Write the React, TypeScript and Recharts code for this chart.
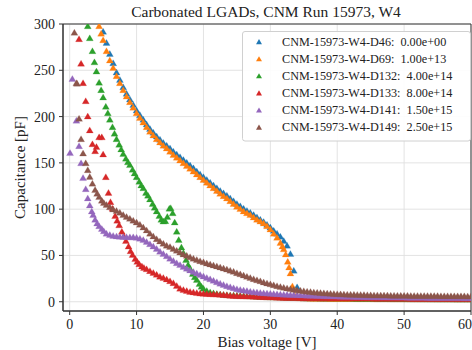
import { ScatterChart, Scatter, XAxis, YAxis, CartesianGrid, ReferenceArea } from 'recharts'

type Pt = [number, number]

// irregular start of each sweep: [bias V, capacitance pF]
const d46Head: Pt[] = [
  [5.0, 292], [5.5, 280], [6.0, 268], [6.5, 258], [7.0, 248], [7.5, 240], [8.0, 232], [8.5, 225], [9.0, 219], [9.5, 213],
  [10.0, 207], [10.5, 202], [11.0, 197], [11.5, 192], [12.0, 187], [12.5, 183], [13.0, 179], [13.5, 175.5], [14.0, 172], [14.5, 169],
  [15.0, 166], [15.5, 162.5], [16.0, 159.5], [16.5, 156.5], [17.0, 153.5], [17.5, 150.5], [18.0, 147.5], [18.5, 144.5], [19.0, 141], [19.5, 138],
  [20.0, 135], [20.5, 132], [21.0, 129], [21.5, 126], [22.0, 123], [22.5, 120], [23.0, 117.5], [23.5, 115], [24.0, 112], [24.5, 109],
  [25.0, 106], [25.5, 103.5], [26.0, 101], [26.5, 98.5], [27.0, 96.5], [27.5, 94], [28.0, 91.5], [28.5, 89], [29.0, 86.5], [29.5, 83.5],
  [30.0, 80.5], [30.5, 77], [31.0, 74], [31.5, 70.5], [32.0, 66], [32.5, 61], [33.0, 52], [33.5, 34], [34.0, 16], [34.5, 5.5],
]
const d69Head: Pt[] = [
  [4.4, 298], [4.7, 290], [5.0, 283], [5.5, 271], [6.0, 261], [6.5, 253], [7.0, 244], [7.5, 236.5], [8.0, 229], [8.5, 222],
  [9.0, 216], [9.5, 210], [10.0, 204], [10.5, 199], [11.0, 194], [11.5, 189], [12.0, 184], [12.5, 180], [13.0, 176], [13.5, 172.5],
  [14.0, 169], [14.5, 166], [15.0, 162.5], [15.5, 159], [16.0, 156], [16.5, 153], [17.0, 150], [17.5, 147], [18.0, 144], [18.5, 141],
  [19.0, 138], [19.5, 135], [20.0, 132], [20.5, 129], [21.0, 126], [21.5, 123], [22.0, 120], [22.5, 117], [23.0, 114.5], [23.5, 112],
  [24.0, 109], [24.5, 106], [25.0, 103], [25.5, 100.5], [26.0, 98], [26.5, 96], [27.0, 94], [27.5, 91.5], [28.0, 89], [28.5, 87],
  [29.0, 85], [29.5, 82], [30.0, 78.5], [30.5, 74], [31.0, 69.5], [31.5, 64], [31.8, 60], [32.0, 57], [32.3, 51.5], [32.6, 43.5],
  [32.8, 37.5], [33.0, 31], [33.3, 17], [33.8, 6], [34.3, 4.2],
]
const d132Head: Pt[] = [
  [2.7, 298], [3.0, 285], [3.4, 271], [3.7, 259], [4.0, 249], [4.4, 237], [4.7, 229], [5.0, 221], [5.4, 211], [5.7, 204],
  [6.0, 197], [6.4, 189], [6.7, 182], [7.0, 176], [7.4, 170], [7.7, 165], [8.0, 160], [8.4, 155], [8.7, 151], [9.0, 148],
  [9.4, 143], [9.7, 139], [10.0, 135], [10.4, 130], [10.7, 126], [11.0, 123], [11.4, 118], [11.7, 115], [12.0, 111], [12.4, 106],
  [12.7, 102], [13.0, 98], [13.4, 93], [13.7, 89], [14.0, 87], [14.3, 87.5], [14.6, 92], [14.9, 101], [15.1, 101.5], [15.4, 96],
  [15.7, 86], [16.0, 76], [16.3, 67], [16.7, 59], [17.0, 53], [17.4, 45.5], [17.7, 40], [18.0, 36], [18.4, 30.5], [18.7, 27],
  [19.0, 24], [19.4, 19.5], [19.7, 16.5], [20.0, 14.5], [20.5, 12], [21.0, 10.5], [21.5, 9.5], [22.0, 8.8], [22.5, 8.3], [23.0, 7.8],
  [23.5, 7.5], [24.0, 7.3], [24.5, 7.1], [25.0, 7], [25.5, 6.8], [26.0, 6.6], [26.5, 6.4], [27.0, 6.2], [27.5, 6], [28.0, 5.8],
  [28.5, 5.6], [29.0, 5.5], [29.5, 5.3], [30.0, 5.2], [30.5, 5.1], [31.0, 5], [31.5, 4.9], [32.0, 4.8], [32.5, 4.7], [33.0, 4.6],
  [33.5, 4.5], [34.0, 4.5], [34.5, 4.4],
]
const d133Head: Pt[] = [
  [1.4, 284], [1.7, 257.5], [2.0, 236.5], [2.4, 217], [2.7, 200.5], [3.0, 185.5], [3.4, 170.5], [3.8, 163], [4.0, 167.5], [4.4, 178],
  [4.8, 178], [5.0, 159.5], [5.4, 135], [5.8, 118], [6.1, 108], [6.4, 101], [6.8, 93], [7.1, 88], [7.4, 83], [7.8, 76],
  [8.1, 71], [8.4, 66], [8.8, 60], [9.1, 55], [9.4, 51], [9.8, 46.5], [10.1, 43.5], [10.4, 41], [10.8, 38.5], [11.1, 37],
  [11.5, 35.5], [12.0, 33.5], [12.5, 31.5], [13.0, 29.5], [13.5, 27.5], [14.0, 26], [14.5, 24.5], [15.0, 22.5], [15.5, 20.5], [16.0, 17.5],
  [16.5, 14.5], [17.0, 13], [17.5, 12], [18.0, 11], [18.5, 10.5], [19.0, 9.8], [19.5, 9.3], [20.0, 9], [20.5, 8.8], [21.0, 8.6],
  [21.5, 8.4], [22.0, 8.2], [22.5, 8], [23.0, 7.8], [23.5, 7.4], [24.0, 7], [24.5, 6.7], [25.0, 6.5], [25.5, 6.4], [26.0, 6.2],
  [26.5, 6.1], [27.0, 6], [27.5, 5.8], [28.0, 5.7], [28.5, 5.5], [29.0, 5.4], [29.5, 5.2], [30.0, 5.1], [30.5, 5], [31.0, 4.8],
  [31.5, 4.7], [32.0, 4.6], [32.5, 4.5], [33.0, 4.5], [33.5, 4.4], [34.0, 4.4], [34.5, 4.3],
]
const d141Head: Pt[] = [
  [0.05, 161], [0.4, 241], [1.0, 196], [1.4, 168.5], [1.7, 150], [2.0, 134], [2.4, 122], [2.7, 112], [3.0, 104.5], [3.3, 98],
  [3.5, 94], [3.8, 89], [4.1, 85], [4.4, 82], [4.8, 79], [5.1, 76.5], [5.5, 74], [6.0, 72.5], [6.5, 71.5], [7.0, 71],
  [7.5, 70.5], [8.0, 70.3], [8.5, 70.2], [9.0, 70], [9.5, 70], [10.0, 69.5], [10.5, 68.5], [11.0, 67], [11.5, 65], [12.0, 62.5],
  [12.5, 60], [13.0, 57.5], [13.5, 54.5], [14.0, 52], [14.5, 49.5], [15.0, 47], [15.5, 44.5], [16.0, 42], [16.5, 40], [17.0, 38],
  [17.5, 36], [18.0, 34.3], [18.5, 32.5], [19.0, 31], [19.5, 29.3], [20.0, 27.8], [20.5, 26.2], [21.0, 24.6], [21.5, 23], [22.0, 21.5],
  [22.5, 20], [23.0, 18.6], [23.5, 17.3], [24.0, 16.1], [24.5, 15], [25.0, 14], [25.5, 13.2], [26.0, 12.5], [26.5, 11.9], [27.0, 11.3],
  [27.5, 10.8], [28.0, 10.3], [28.5, 9.9], [29.0, 9.6], [29.5, 9.3], [30.0, 9], [30.5, 8.7], [31.0, 8.5], [31.5, 8.3], [32.0, 8.1],
  [32.5, 7.9], [33.0, 7.8], [33.5, 7.6], [34.0, 7.5], [34.5, 7.3],
]
const d149Head: Pt[] = [
  [0.7, 291], [1.0, 236.5], [1.1, 236], [1.4, 198], [1.7, 176], [2.0, 160.5], [2.4, 150], [2.7, 142.5], [3.0, 135.3], [3.4, 128],
  [3.8, 121], [4.1, 117], [4.4, 113.5], [4.8, 109.5], [5.1, 107], [5.5, 105], [6.0, 102.5], [6.5, 100], [7.0, 98.5], [7.5, 96.5],
  [8.0, 94], [8.5, 92], [9.0, 90], [9.5, 88], [10.0, 86], [10.5, 83.5], [11.0, 80.5], [11.5, 77.5], [12.0, 74], [12.5, 71],
  [13.0, 68], [13.5, 65.5], [14.0, 63], [14.5, 61], [15.0, 59.5], [15.5, 57.5], [16.0, 55.5], [16.5, 53.5], [17.0, 51.5], [17.5, 50],
  [18.0, 48.5], [18.5, 47], [19.0, 45.5], [19.5, 44.2], [20.0, 43], [20.5, 41.8], [21.0, 40.7], [21.5, 39.6], [22.0, 38.6], [22.5, 37.5],
  [23.0, 36.3], [23.5, 35.2], [24.0, 34], [24.5, 32.7], [25.0, 31.3], [25.5, 30], [26.0, 28.7], [26.5, 27.3], [27.0, 26], [27.5, 24.8],
  [28.0, 23.6], [28.5, 22.5], [29.0, 21.3], [29.5, 20.2], [30.0, 19.2], [30.5, 18.2], [31.0, 17.2], [31.5, 16.3], [32.0, 15.5], [32.5, 14.8],
  [33.0, 14.1], [33.5, 13.5], [34.0, 12.8], [34.5, 12.3],
]

// flat part of the sweeps, 35 V .. 60 V in 0.5 V steps
const tailVolts = [
  35, 35.5, 36, 36.5, 37, 37.5, 38, 38.5, 39, 39.5,
  40, 40.5, 41, 41.5, 42, 42.5, 43, 43.5, 44, 44.5,
  45, 45.5, 46, 46.5, 47, 47.5, 48, 48.5, 49, 49.5,
  50, 50.5, 51, 51.5, 52, 52.5, 53, 53.5, 54, 54.5,
  55, 55.5, 56, 56.5, 57, 57.5, 58, 58.5, 59, 59.5, 60,
]
const d46Tail = [
  3.9, 3.9, 3.8, 3.8, 3.8, 3.7, 3.7, 3.7, 3.6, 3.6,
  3.6, 3.6, 3.5, 3.5, 3.5, 3.5, 3.4, 3.4, 3.4, 3.4,
  3.4, 3.3, 3.3, 3.3, 3.3, 3.3, 3.2, 3.2, 3.2, 3.2,
  3.2, 3.2, 3.1, 3.1, 3.1, 3.1, 3.1, 3.1, 3.0, 3.0,
  3.0, 3.0, 3.0, 3.0, 3.0, 2.9, 2.9, 2.9, 2.9, 2.9, 2.9,
]
const d69Tail = [
  3.8, 3.8, 3.7, 3.7, 3.7, 3.6, 3.6, 3.6, 3.5, 3.5,
  3.5, 3.5, 3.4, 3.4, 3.4, 3.4, 3.3, 3.3, 3.3, 3.3,
  3.3, 3.2, 3.2, 3.2, 3.2, 3.2, 3.1, 3.1, 3.1, 3.1,
  3.1, 3.1, 3.0, 3.0, 3.0, 3.0, 3.0, 3.0, 2.9, 2.9,
  2.9, 2.9, 2.9, 2.9, 2.9, 2.8, 2.8, 2.8, 2.8, 2.8, 2.8,
]
const d132Tail = [
  4.3, 4.3, 4.2, 4.2, 4.1, 4.1, 4.0, 4.0, 4.0, 3.9,
  3.9, 3.9, 3.8, 3.8, 3.8, 3.7, 3.7, 3.7, 3.6, 3.6,
  3.6, 3.6, 3.5, 3.5, 3.5, 3.5, 3.4, 3.4, 3.4, 3.4,
  3.3, 3.3, 3.3, 3.3, 3.3, 3.2, 3.2, 3.2, 3.2, 3.2,
  3.1, 3.1, 3.1, 3.1, 3.1, 3.1, 3.0, 3.0, 3.0, 3.0, 3.0,
]
const d133Tail = [
  4.3, 4.3, 4.2, 4.2, 4.2, 4.1, 4.1, 4.1, 4.0, 4.0,
  4.0, 4.0, 3.9, 3.9, 3.9, 3.9, 3.8, 3.8, 3.8, 3.8,
  3.8, 3.7, 3.7, 3.7, 3.7, 3.7, 3.6, 3.6, 3.6, 3.6,
  3.6, 3.6, 3.5, 3.5, 3.5, 3.5, 3.5, 3.5, 3.4, 3.4,
  3.4, 3.4, 3.4, 3.4, 3.4, 3.3, 3.3, 3.3, 3.3, 3.3, 3.3,
]
const d141Tail = [
  7.2, 7.0, 6.9, 6.8, 6.6, 6.5, 6.4, 6.3, 6.2, 6.1,
  6.0, 5.9, 5.8, 5.8, 5.7, 5.6, 5.5, 5.5, 5.4, 5.4,
  5.3, 5.3, 5.2, 5.2, 5.1, 5.1, 5.0, 5.0, 4.9, 4.9,
  4.9, 4.8, 4.8, 4.8, 4.7, 4.7, 4.7, 4.6, 4.6, 4.6,
  4.5, 4.5, 4.5, 4.5, 4.4, 4.4, 4.4, 4.4, 4.3, 4.3, 4.3,
]
const d149Tail = [
  11.8, 11.3, 10.9, 10.5, 10.1, 9.8, 9.5, 9.2, 9.0, 8.8,
  8.6, 8.4, 8.3, 8.1, 8.0, 7.9, 7.8, 7.7, 7.6, 7.5,
  7.4, 7.3, 7.3, 7.2, 7.1, 7.1, 7.0, 7.0, 6.9, 6.9,
  6.8, 6.8, 6.7, 6.7, 6.7, 6.6, 6.6, 6.6, 6.5, 6.5,
  6.5, 6.4, 6.4, 6.4, 6.4, 6.3, 6.3, 6.3, 6.3, 6.2, 6.2,
]

const xTicks = [0, 10, 20, 30, 40, 50, 60]
const yTicks = [0, 50, 100, 150, 200, 250, 300]

const series = [
  { name: 'CNM-15973-W4-D46', fluence: '0.00e+00', color: '#1f77b4', head: d46Head, tail: d46Tail },
  { name: 'CNM-15973-W4-D69', fluence: '1.00e+13', color: '#ff7f0e', head: d69Head, tail: d69Tail },
  { name: 'CNM-15973-W4-D132', fluence: '4.00e+14', color: '#2ca02c', head: d132Head, tail: d132Tail },
  { name: 'CNM-15973-W4-D133', fluence: '8.00e+14', color: '#d62728', head: d133Head, tail: d133Tail },
  { name: 'CNM-15973-W4-D141', fluence: '1.50e+15', color: '#9467bd', head: d141Head, tail: d141Tail },
  { name: 'CNM-15973-W4-D149', fluence: '2.50e+15', color: '#8c564b', head: d149Head, tail: d149Tail },
]

const FONT = '"Liberation Serif", "DejaVu Serif", serif'

function rows(head: Pt[], tail: number[]) {
  return [
    ...head.map(([v, c]) => ({ v, c })),
    ...tail.map((c, i) => ({ v: tailVolts[i], c })),
  ]
}

const triPath = (x: number, y: number, r = 1) =>
  `M${x},${y - 3.1 * r}L${x + 3.5 * r},${y + 2.9 * r}L${x - 3.5 * r},${y + 2.9 * r}Z`

function triangle(color: string) {
  return (props: any) => {
    const { cx, cy } = props
    if (cx == null || cy == null) return <g />
    return <path d={triPath(cx, cy)} fill={color} stroke={color} strokeOpacity={0.35} strokeWidth={0.6} />
  }
}

export default function App() {
  return (
    <div style={{ position: 'absolute', left: 0, top: 0, width: 472, height: 350, background: '#fff', fontFamily: FONT }}>
      <ScatterChart width={472} height={350} margin={{ top: 24, right: 1, bottom: 0, left: 0 }}>
        <CartesianGrid stroke="#e0e0e0" strokeWidth={0.9} />
        <XAxis
          type="number"
          dataKey="v"
          domain={[-1, 60]}
          ticks={xTicks}
          allowDataOverflow
          height={39}
          tickSize={4}
          tickMargin={4}
          stroke="#333"
          tick={{ fontSize: 14, fontFamily: FONT, fill: '#222' }}
          label={{ value: 'Bias voltage [V]', position: 'insideBottom', offset: 3, fontSize: 15, fontFamily: FONT, fill: '#222' }}
        />
        <YAxis
          type="number"
          dataKey="c"
          domain={[-10, 300]}
          ticks={yTicks}
          allowDataOverflow
          width={63}
          tickSize={4}
          tickMargin={4}
          stroke="#333"
          tick={{ fontSize: 14, fontFamily: FONT, fill: '#222' }}
          label={{ value: 'Capacitance [pF]', angle: -90, position: 'insideLeft', offset: 20, style: { textAnchor: 'middle' }, fontSize: 15, fontFamily: FONT, fill: '#222' }}
        />
        {series.map(s => (
          <Scatter
            key={s.name}
            name={s.name}
            data={rows(s.head, s.tail)}
            fill={s.color}
            shape={triangle(s.color)}
            isAnimationActive={false}
          />
        ))}
        <ReferenceArea x1={-1} x2={60} y1={-10} y2={300} fill="none" stroke="#333" strokeWidth={1} ifOverflow="visible" />
      </ScatterChart>

      <div style={{ position: 'absolute', left: 66, top: 3, width: 400, textAlign: 'center', fontSize: 15.5, lineHeight: '18px', color: '#222' }}>
        Carbonated LGADs, CNM Run 15973, W4
      </div>

      <svg width={472} height={350} style={{ position: 'absolute', left: 0, top: 0, pointerEvents: 'none' }}>
        <rect x={242.5} y={31.5} width={228} height={109.5} rx={2.5} fill="#fff" fillOpacity={0.9} stroke="#d0d0d0" />
        {series.map((s, i) => {
          const y = 41.7 + i * 17.1
          return (
            <g key={s.name}>
              <path d={triPath(259, y, 0.85)} fill={s.color} />
              <text x={282} y={y + 4.2} fontSize={12.2} fontFamily={FONT} fill="#222" xmlSpace="preserve">
                {`${s.name}:  ${s.fluence}`}
              </text>
            </g>
          )
        })}
      </svg>
    </div>
  )
}
